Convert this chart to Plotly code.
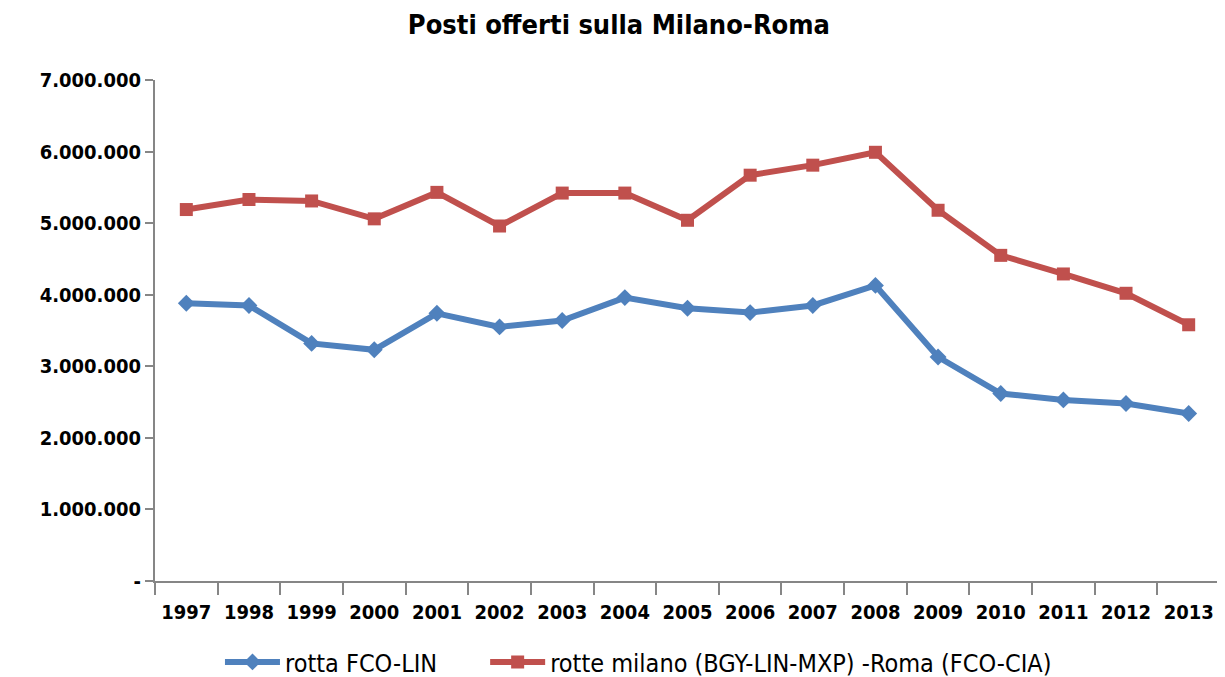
import plotly.graph_objects as go

anni = [str(a) for a in range(1997, 2014)]

# posti offerti, rotta FCO-LIN
fco_lin = [3880000, 3850000, 3320000, 3230000, 3740000, 3550000, 3640000, 3960000,
           3810000, 3750000, 3850000, 4130000, 3130000, 2620000, 2530000, 2480000, 2340000]

# posti offerti, rotte milano (BGY-LIN-MXP) - Roma (FCO-CIA)
milano_roma = [5190000, 5330000, 5310000, 5060000, 5430000, 4960000, 5420000, 5420000,
               5040000, 5670000, 5810000, 5990000, 5180000, 4550000, 4290000, 4020000, 3580000]

y_vals = [0, 1000000, 2000000, 3000000, 4000000, 5000000, 6000000, 7000000]
y_text = ["-", "1.000.000", "2.000.000", "3.000.000", "4.000.000",
          "5.000.000", "6.000.000", "7.000.000"]

font_fam = "DejaVu Sans Condensed, Liberation Sans Narrow, sans-serif"

fig = go.Figure()
fig.add_trace(go.Scatter(
    x=anni, y=fco_lin, name="rotta FCO-LIN", mode="lines+markers",
    line=dict(color="#4F81BD", width=6),
    marker=dict(symbol="diamond", size=13, color="#4F81BD"),
    legend="legend",
))
fig.add_trace(go.Scatter(
    x=anni, y=milano_roma, name="rotte milano (BGY-LIN-MXP) -Roma (FCO-CIA)",
    mode="lines+markers",
    line=dict(color="#C0504D", width=6),
    marker=dict(symbol="square", size=13, color="#C0504D"),
    legend="legend2",
))

leg_font = dict(family=font_fam, size=25, color="black")

# la pagina html ha 8px di margine sul body
fig.update_layout(
    width=1217, height=669,
    plot_bgcolor="white", paper_bgcolor="white",
    margin=dict(l=147, r=5, t=72, b=96, autoexpand=False),
    title=dict(text="<b>Posti offerti sulla Milano-Roma</b>", x=0.502, xanchor="center",
               y=0.975, yanchor="middle",
               font=dict(family=font_fam, size=27, color="black")),
    font=dict(family=font_fam, color="black"),
    legend=dict(orientation="h", x=0.061, xanchor="left", y=-0.162, yanchor="middle",
                font=leg_font, itemwidth=55),
    legend2=dict(orientation="h", x=0.310, xanchor="left", y=-0.162, yanchor="middle",
                 font=leg_font, itemwidth=55),
    showlegend=True,
)

fig.update_xaxes(
    type="category", range=[-0.5, 16.5], automargin=False,
    showline=True, linecolor="#868686", linewidth=2,
    ticks="outside", tickson="boundaries", ticklen=12, tickcolor="#868686", tickwidth=2,
    ticklabelstandoff=12,
    showgrid=False,
    tickfont=dict(family=font_fam, size=20, color="black", weight="bold"),
)
fig.update_yaxes(
    range=[0, 7000000], tickvals=y_vals, ticktext=y_text, automargin=False,
    showline=True, linecolor="#868686", linewidth=2,
    ticks="outside", ticklen=8, tickcolor="#868686", tickwidth=2,
    showgrid=False, zeroline=False,
    tickfont=dict(family=font_fam, size=20, color="black", weight="bold"),
)

fig.write_html("out.html")
